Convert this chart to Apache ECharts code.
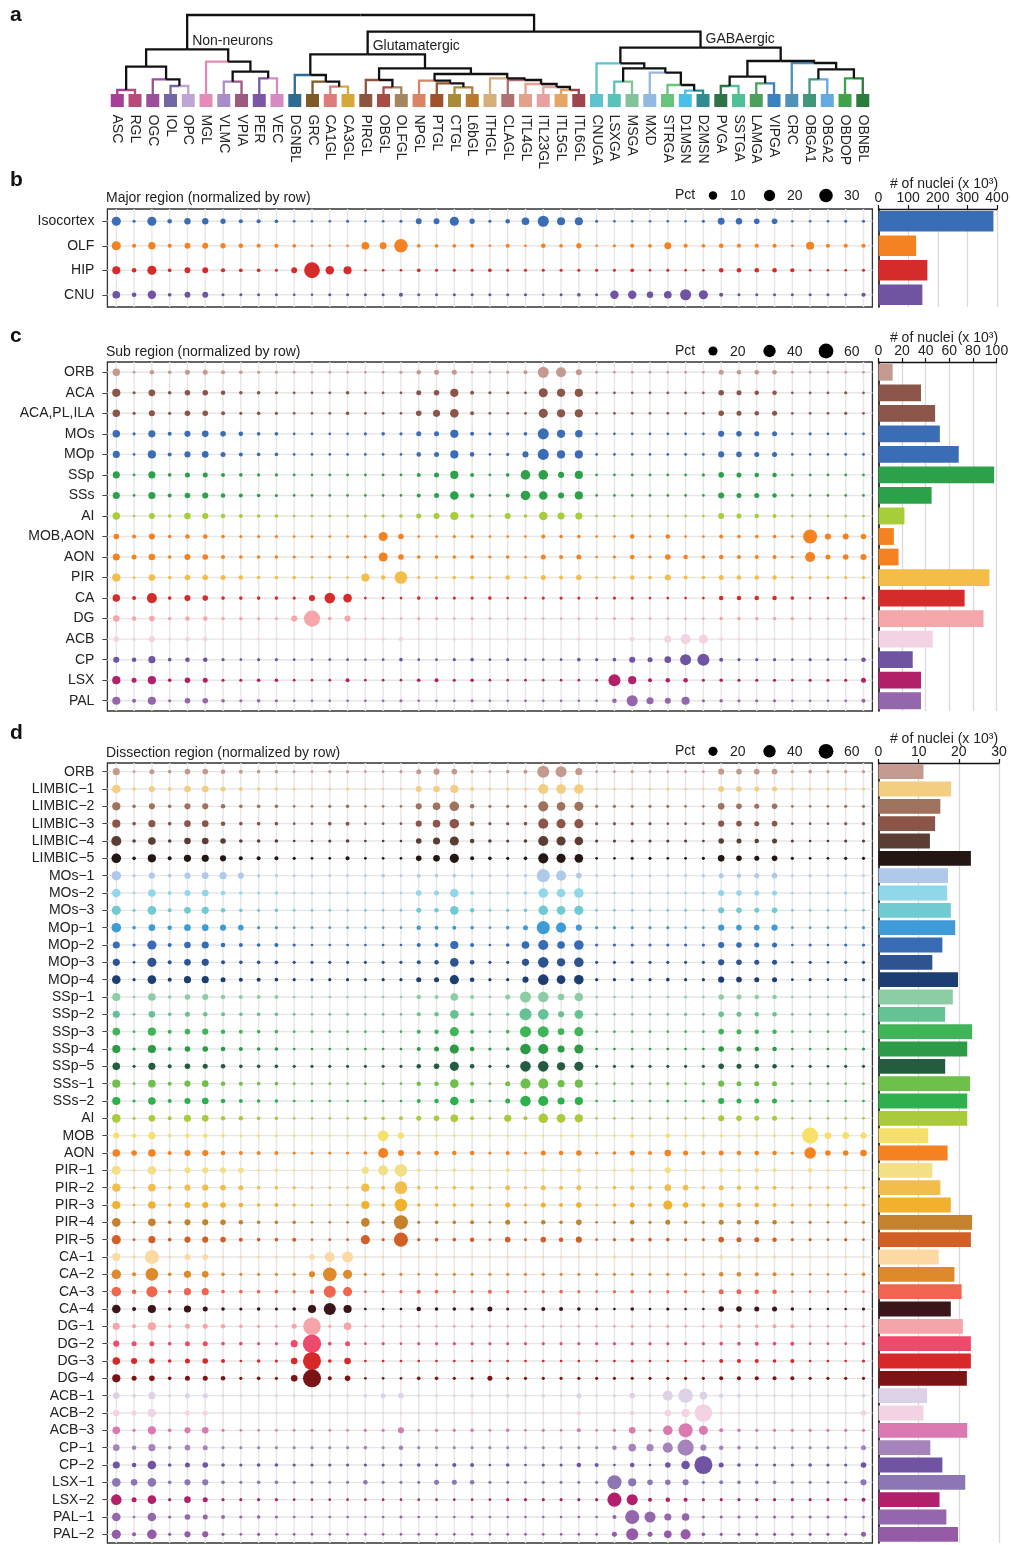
<!DOCTYPE html>
<html><head><meta charset="utf-8">
<script src="https://cdn.jsdelivr.net/npm/echarts@6/dist/echarts.min.js"></script>
<style>html,body{margin:0;padding:0;background:#fff}#c{width:1011px;height:1545px}</style>
</head><body><div id="c"></div>
<script>
const FONT = 'Liberation Sans, Arial, Helvetica, sans-serif';
const FS = 14;

// ---------- cell-type clusters (columns) ----------
const clusters = ['ASC','RGL','OGC','IOL','OPC','MGL','VLMC','VPIA','PER','VEC',
 'DGNBL','GRC','CA1GL','CA3GL','PIRGL','OBGL','OLFGL','NPGL','PTGL','CTGL','L6bGL','ITHGL','CLAGL','ITL4GL','ITL23GL','ITL5GL','ITL6GL',
 'CNUGA','LSXGA','MSGA','MXD','STRGA','D1MSN','D2MSN','PVGA','SSTGA','LAMGA','VIPGA','CRC','OBGA1','OBGA2','OBDOP','OBNBL'];
const clusterColors = ['#a63f98','#b9497a','#9b4e99','#7466a4','#bea6d4','#e58bb8','#a88dc8','#9c5a7d','#7b56a5','#d58ac2',
 '#2e6b93','#7d5a26','#e07b7b','#d6a83a','#8d5540','#a94c46','#a5865f','#da8366','#9d522b','#a98b38','#b97a2e','#d3b07a','#b07270','#e2a18d','#e9a0a3','#e6a565','#9f4550',
 '#5cc3cf','#56c4b8','#82c39a','#93b9e1','#68c47a','#48c1ea','#2e8b8f','#2f7247','#4fc197','#4ba05c','#3b80c1','#5191b9','#40957a','#64a9e0','#3fa24b','#2c7a3c'];

// ---------- dendrogram merges: [node, left, right, height] ----------
const dendroMerges = [
 ['A','ASC','RGL',4],['B','IOL','OPC',8],['C','OGC','B',14.7],['D','A','C',27.3],
 ['E','VLMC','VPIA',12.3],['F','PER','VEC',15.7],['G','E','F',22.3],['H','MGL','G',32.3],['NN','D','H',44.7],
 ['I','CA1GL','CA3GL',7.3],['J','GRC','I',12.3],['K','DGNBL','J',19],
 ['Q','OBGL','OLFGL',6.7],['N','PIRGL','Q',14],
 ['U','CTGL','L6bGL',6.7],['T','PTGL','U',10.7],['R','NPGL','T',13.3],
 ['Y','ITL5GL','ITL6GL',4],['X','ITL23GL','Y',7],['W','ITL4GL','X',10],['V','CLAGL','W',14],['S','ITHGL','V',15.7],
 ['P','R','S',20],['M','N','P',25.7],['GLU','K','M',39.7],
 ['G6','D1MSN','D2MSN',3.3],['G5','STRGA','G6',9],['G4','MXD','G5',21.3],['G3','LSXGA','MSGA',12.3],['G2','G3','G4',25.7],['G1','CNUGA','G2',30.7],
 ['PS','PVGA','SSTGA',8],['LV','LAMGA','VIPGA',10.7],['G8','PS','LV',17.3],
 ['OB12','OBGA1','OBGA2',14.7],['ODN','OBDOP','OBNBL',15.7],['G10','OB12','ODN',24.7],['G9','CRC','G10',31],['G7','G8','G9',33],
 ['GABA','G1','G7',46.3],['NEU','GLU','GABA',62.3],['ROOT','NN','NEU',79]
];
const groupLabels = [['NN','Non-neurons'],['GLU','Glutamatergic'],['GABA','GABAergic']];

// ---------- panel b: major region ----------
const majorRegions = ['Isocortex','OLF','HIP','CNU'];
const majorColors = ['#3a6db5','#f58220','#d62b2b','#7053a3'];
const majorPct = [
 [12,0.5,12,2,5,5,3,1.5,1.5,1, 0.3,0.3,0.3,0.5,0.3,0.3,0.5,4,4,12, 3,0.5,2,8,19,9,9,0.5,0.3,0.3, 0.3,0.3,0.3,0.5,6,5,3.5,3.5,0.3,0.3, 0.3,0.5,0.5],
 [12,1.5,7,1.5,4,4,3,2,1.5,1.5, 1,0.3,0.3,0.3,8,6,30,1,1,1, 1.5,0.3,1.5,0.3,2,1,3,0.3,0.5,1.5, 1,6,1.5,1,2,1.5,1.5,1.5,0.3,9, 1.5,1.5,1.5],
 [9,2,12,1,4,4,1.5,1,1,0.5, 4,42,10,9,0.3,0.3,0.3,1,0.5,0.5, 0.5,1,0.5,0.5,0.5,0.5,0.5,0.5,0.5,1, 0.3,0.5,0.3,0.3,2,2,2,2,1.5,0.3, 0.3,0.3,0.5],
 [8,2,10,1,4,4,0.5,0.5,0.5,0.5, 0.3,0.3,0.5,0.5,0.5,0.5,1.5,0.5,0.5,0.5, 0.5,0.5,0.5,0.5,0.3,0.5,1,0.5,10,10, 5,8,19,12,1.5,0.5,0.5,0.5,0.5,0.5, 0.5,0.5,1.5]
];
const majorNuclei = [388,127,165,148];
const majorTicks = [0,100,200,300,400];
const majorLegend = [10,20,30];

// ---------- panel c: sub region ----------
const subRegions = ['ORB','ACA','ACA,PL,ILA','MOs','MOp','SSp','SSs','AI','MOB,AON','AON','PIR','CA','DG','ACB','CP','LSX','PAL'];
const subColors = ['#c49a8f','#8b5549','#8b5549','#3a6db5','#3a6db5','#2ca14a','#2ca14a','#a6ce39','#f58220','#f58220','#f3bd48','#d62b2b','#f5a6aa','#f3d3e3','#7053a3','#b21f6b','#9467ac'];
const subPct = [
 [12,0.4,3,1.4,4,4,2,1.4,0.8,0.8, 0.4,0.4,0.4,0.4,0.4,0.4,0.8,3,4,4, 0.4,0.4,0.8,2,31,25,7,0.4,0.4,0.4, 0.4,0.4,0.4,0.4,4,3,3,3,0.4,0.4, 0.4,0.4,0.4],
 [15,0.8,9,1.4,5.5,5.5,3,1.4,1.4,0.8, 0.4,0.4,0.4,1.4,0.4,0.4,0.4,4,5.5,15, 2,0.8,0.8,0.4,19.5,15,15,0.4,0.4,0.4, 0.4,0.4,0.4,0.4,5.5,4,3,3,0.4,0.4, 0.4,0.8,0.4],
 [12,0.8,7,0.8,5.5,5.5,2,0.8,1.4,0.8, 0.4,0.4,0.4,1.4,0.4,0.4,0.4,5.5,10.5,17, 2,0.4,0.4,0.4,19.5,15,15,0.4,0.4,0.4, 0.4,0.4,0.4,0.4,5.5,4,3,4,0.4,0.4, 0.4,0.8,0.4],
 [12,0.8,10.5,2,7,8.7,5.5,3,1.4,1.4, 0.4,0.4,0.4,0.4,0.8,1.4,0.8,4,4,15, 2,0.8,0.8,1.4,31,15,12,0.4,0.4,0.4, 0.4,0.4,0.4,0.4,7,5.5,4,4,0.4,0.8, 0.4,0.4,0.4],
 [10.5,0.4,15,2,7,8.7,4,2,1.4,1.4, 0.4,0.4,0.4,0.4,0.4,0.4,0.4,3,4,15, 3,0.4,0.8,7,31,15,15,0.4,0.4,0.4, 0.4,0.4,0.4,0.4,7,5.5,4,4,0.4,0.4, 0.4,0.4,0.4],
 [10.5,0.4,10.5,1.4,4,4,2,1.4,0.8,0.8, 0.4,0.4,0.4,0.4,0.4,0.4,0.4,2,4,15, 2,0.4,1.4,22,22,7,15,0.4,0.4,0.4, 0.4,0.4,0.4,0.8,5.5,4,3,3,0.4,0.4, 0.4,0.4,0.4],
 [10.5,0.4,10.5,2,5.5,7,3,2,1.4,0.8, 0.4,0.4,0.4,0.4,0.4,0.4,0.4,2,4,17, 3,0.4,2,22,17,7,15,0.4,0.4,0.4, 0.4,0.4,0.4,0.4,7,4,4,3,0.4,0.4, 0.4,0.4,0.4],
 [12,0.4,7,1.4,8.7,7,3,2,1.4,1.4, 0.4,0.4,0.4,0.4,0.8,0.8,1.4,4,7,15, 2,0.4,7,1.4,17,10.5,10.5,0.4,0.4,0.4, 0.4,0.4,0.4,0.4,7,4,3,2,0.4,0.4, 0.4,0.4,0.4],
 [5.5,2,7,1.4,3,3,1.4,0.8,0.8,0.8, 0.4,0.4,0.4,0.4,0.8,19.5,5.5,0.4,0.4,0.8, 0.8,0.4,0.4,0.4,2,1.4,1.4,0.4,0.4,3, 0.4,3,0.4,0.4,2,1.4,1.4,1.4,0.4,54, 7,7,5.5],
 [10.5,4,8.7,1.4,7,5.5,2,1.4,1.4,1.4, 0.8,0.4,0.8,0.8,0.8,19.5,5.5,1.4,1.4,1.4, 2,0.8,1.4,0.4,4,2,4,0.4,0.8,3, 0.8,5.5,3,1.4,3,2,2,2,0.4,25, 4,5.5,7],
 [15,0.4,8.7,1.4,5.5,5.5,4,3,1.4,1.4, 1.4,0.4,0.4,0.4,15,3,42,0.8,0.8,1.4, 2,0.4,3,0.8,4,2,5.5,0.4,0.8,3, 1.4,7,2,1.4,4,3,3,3,0.4,0.8, 0.8,0.8,0.8],
 [12,2,25,1.4,7,5.5,1.4,1.4,1.4,1.4, 0.8,7,28,17,0.4,0.4,0.4,1.4,0.8,0.8, 0.8,1.4,0.4,0.4,0.8,0.8,0.8,0.4,0.8,0.8, 0.4,0.4,0.4,0.4,3,3,3,3,1.4,0.4, 0.4,0.4,0.8],
 [8.7,3,5.5,1.4,3,3,1.4,1.4,0.8,0.8, 7,73,1.4,7,0.4,0.4,0.4,0.8,0.8,0.4, 0.8,0.4,0.4,0.4,0.4,0.4,0.4,0.4,0.8,0.8, 0.4,0.4,0.4,0.4,1.4,1.4,1.4,1.4,1.4,0.4, 0.4,0.4,0.4],
 [5.5,1.4,7,0.8,3,3,0.4,0.4,0.8,0.4, 0.4,0.4,0.4,0.4,0.8,1.4,3,0.4,0.4,0.8, 0.8,0.4,0.8,0.4,0.8,0.4,1.4,0.4,0.4,3, 0.8,10.5,25,19.5,2,0.8,0.8,0.4,0.4,0.4, 0.4,0.4,0.8],
 [7,3,10.5,1.4,3,3,0.8,0.4,0.8,0.8, 0.4,0.4,0.4,0.4,0.4,0.4,1.4,0.4,0.4,0.8, 1.4,0.4,0.8,0.4,0.4,0.4,1.4,0.8,1.4,7, 4,8.7,31,38,2,0.8,0.8,0.8,0.4,0.8, 0.4,0.4,3],
 [15,4,15,1.4,5.5,4,0.8,0.8,1.4,1.4, 0.4,0.4,0.4,2,0.4,0.4,0.4,1.4,2,0.8, 1.4,0.4,0.4,0.4,0.4,0.4,0.4,0.4,38,15, 2,3,3,0.8,1.4,0.8,0.8,0.8,0.4,0.8, 0.8,0.8,4],
 [15,2,15,0.8,5.5,5.5,1.4,0.8,1.4,0.8, 0.4,0.4,0.4,0.4,0.4,0.4,0.8,0.4,0.4,0.4, 0.8,0.4,0.4,0.4,0.4,0.4,0.4,0.4,3,31, 10.5,7,15,0.8,1.4,0.8,0.8,0.8,0.4,0.4, 0.4,0.4,2]
];
const subNuclei = [12,36,48,52,68,98,45,22,13,17,94,73,89,46,29,36,36];
const subTicks = [0,20,40,60,80,100];
const subLegend = [20,40,60];

// ---------- panel d: dissection region ----------
const dissRegions = ['ORB','LIMBIC\u22121','LIMBIC\u22122','LIMBIC\u22123','LIMBIC\u22124','LIMBIC\u22125','MOs\u22121','MOs\u22122','MOs\u22123',
 'MOp\u22121','MOp\u22122','MOp\u22123','MOp\u22124','SSp\u22121','SSp\u22122','SSp\u22123','SSp\u22124','SSp\u22125','SSs\u22121','SSs\u22122','AI',
 'MOB','AON','PIR\u22121','PIR\u22122','PIR\u22123','PIR\u22124','PIR\u22125','CA\u22121','CA\u22122','CA\u22123','CA\u22124',
 'DG\u22121','DG\u22122','DG\u22123','DG\u22124','ACB\u22121','ACB\u22122','ACB\u22123','CP\u22121','CP\u22122','LSX\u22121','LSX\u22122','PAL\u22121','PAL\u22122'];
const dissColors = ['#c49a8f','#f3cd82','#9f725d','#8b5549','#5b3e33','#241612','#afc9ea','#90d7ea','#6fcad1',
 '#3f9bd7','#386bb5','#2d5390','#1c3e72','#8dcda5','#66c193','#3fb558','#2b9b46','#245c40','#6fbf4b','#2eb04c','#a8cb3a',
 '#f7e06a','#f58220','#f3e086','#f2bd4b','#f0b22c','#c4822c','#d35f27','#fcd9a2','#de8a2a','#f0654e','#3a161a',
 '#f5a5a9','#ee4a6c','#d7282a','#7c1416','#ddd1e6','#f3d3e3','#da7ab1','#a783bb','#7053a3','#8c77b4','#b21f6b','#9467ac','#965ba6'];
const dissPct = [
 [10.5,0.4,4,1.4,5.5,5.5,3,2,1.4,1.4, 0.4,0.4,0.8,0.8,0.4,0.4,0.8,4,7,5.5, 0.8,0.4,1.4,2,38,31,10.5,0.4,0.4,0.8, 0.4,0.4,0.4,0.4,7,5.5,5.5,5.5,0.8,1.4, 0.8,0.8,0.8],
 [17,1.4,7,2,8.7,8.7,4,2,1.4,1.4, 0.4,0.4,0.4,0.8,0.4,0.4,0.4,7,8.7,15, 2,0.8,0.8,0.8,25,22,22,0.4,0.4,0.4, 0.4,0.8,0.4,0.4,7,5.5,4,4,0.8,0.8, 0.8,0.8,0.8],
 [15,1.4,7,1.4,7,7,3,1.4,1.4,1.4, 0.4,0.4,0.8,1.4,0.4,0.4,0.4,7,12.5,22, 3,0.8,0.8,0.8,25,17,19.5,0.8,0.8,0.8, 0.8,0.8,0.4,0.4,8.7,5.5,4,5.5,0.4,0.4, 0.4,0.8,0.8],
 [15,1.4,10.5,1.4,8.7,8.7,3,1.4,1.4,1.4, 0.4,0.4,1.4,2,0.4,0.4,0.4,7,12.5,22, 3,0.8,0.8,1.4,25,19.5,19.5,0.8,0.8,0.8, 0.8,0.4,0.4,0.4,7,5.5,4,5.5,0.4,0.4, 0.4,0.8,0.8],
 [25,1.4,12.5,1.4,8.7,8.7,5.5,1.4,1.4,1.4, 0.4,0.4,0.8,1.4,0.4,0.4,0.4,5.5,10.5,19.5, 3,1.4,0.8,1.4,25,19.5,17,0.8,0.8,0.8, 0.8,0.8,0.8,0.4,5.5,4,3,4,0.8,0.4, 0.4,0.8,0.8],
 [22,1.4,15,2,10.5,10.5,7,2,2,2, 0.8,0.4,0.4,2,0.4,0.4,0.4,5.5,8.7,19.5, 2,1.4,0.8,1.4,25,19.5,17,0.4,0.4,0.8, 0.8,0.4,0.4,0.8,8.7,5.5,4,5.5,0.8,0.4, 0.4,0.8,0.8],
 [22,0.8,7,1.4,7,8.7,10.5,7,0.8,0.8, 0.4,0.4,0.4,0.4,0.4,1.4,0.4,2,1.4,1.4, 0.4,0.4,0.4,0.8,46,25,5.5,0.4,0.4,0.4, 0.4,0.4,0.4,0.8,4,3,4,5.5,0.4,0.8, 0.4,0.4,0.4],
 [17,0.4,12.5,2,7,8.7,3,1.4,0.8,1.4, 0.4,0.4,0.4,0.4,0.4,0.4,0.4,5.5,4,17, 2,0.4,0.8,1.4,22,17,22,0.4,0.4,0.4, 0.4,0.4,0.4,0.4,7,5.5,4,4,0.4,0.4, 0.4,0.8,0.4],
 [19.5,0.8,17,2,8.7,10.5,3,1.4,0.8,1.4, 0.4,0.4,0.4,0.4,0.4,0.4,0.4,4,3,17, 3,0.4,0.8,1.4,22,17,19.5,0.4,0.4,0.4, 0.4,0.4,0.4,0.4,7,5.5,4,5.5,0.4,0.4, 0.4,0.4,0.4],
 [22,1.4,8.7,3,8.7,8.7,7,5.5,0.8,0.8, 0.4,0.4,0.4,0.4,0.4,0.4,0.4,3,2,2, 1.4,0.4,1.4,4,46,25,7,0.8,0.8,0.8, 0.8,0.8,0.4,0.4,7,5.5,5.5,7,0.4,0.4, 0.4,0.4,0.8],
 [10.5,0.8,19.5,2,8.7,10.5,3,2,1.4,2, 0.8,0.4,0.4,0.4,0.4,0.4,0.4,2,2,15, 2,0.4,1.4,12.5,25,12.5,22,0.8,0.8,0.8, 0.8,0.8,0.8,0.8,7,5.5,4,4,0.4,0.8, 0.4,0.8,0.8],
 [10.5,0.4,19.5,2,8.7,10.5,2,1.4,1.4,1.4, 0.8,0.8,0.8,0.8,0.8,0.8,0.8,2,3,17, 3,0.8,0.8,10.5,28,15,22,0.8,0.8,0.8, 0.8,0.8,0.8,0.8,7,5.5,4,4,0.4,0.8, 0.4,0.8,0.8],
 [17,0.8,17,2,10.5,10.5,4,2,2,1.4, 0.8,0.8,0.8,0.8,0.8,0.8,0.8,4,4,19.5, 3,0.8,0.8,7,28,17,22,0.8,0.8,0.8, 0.8,1.4,0.8,0.8,7,5.5,4,4,0.4,0.8, 0.4,0.8,0.8],
 [15,0.4,12.5,1.4,5.5,7,3,2,2,2, 0.4,0.4,0.4,0.4,0.4,0.4,0.4,3,2,12.5, 2,0.4,4,31,28,8.7,17,0.4,0.4,0.4, 0.4,0.4,0.8,0.4,5.5,4,3,3,0.4,0.4, 0.4,0.4,0.4],
 [10.5,0.4,8.7,1.4,4,3,2,1.4,1.4,1.4, 0.4,0.4,0.4,0.4,0.4,0.4,0.4,2,3,17, 2,0.4,0.8,38,28,7,17,0.4,0.4,0.4, 0.4,0.4,0.8,0.4,5.5,4,3,3,0.4,0.4, 0.4,0.4,0.4],
 [12.5,0.4,15,2,5.5,7,3,2,1.4,1.4, 0.4,0.4,0.4,0.4,0.4,0.4,0.4,2,3,19.5, 2,0.4,1.4,31,31,8.7,19.5,0.4,0.4,0.4, 0.4,0.4,0.4,0.4,5.5,4,3,3,0.4,0.4, 0.4,0.4,0.4],
 [15,0.8,15,2,5.5,5.5,3,2,1.4,1.4, 0.4,0.4,0.4,0.4,0.4,0.4,0.4,2,4,19.5, 3,0.8,1.4,28,25,10.5,19.5,0.4,0.4,0.4, 0.4,0.4,0.4,0.4,5.5,4,3,3,0.4,0.4, 0.4,0.4,0.8],
 [12.5,0.8,10.5,2,5.5,4,3,1.4,1.4,1.4, 0.8,0.8,0.8,0.8,0.8,0.8,0.8,3,5.5,19.5, 3,0.8,1.4,28,28,15,19.5,0.8,0.8,0.8, 0.8,0.8,0.8,0.8,5.5,4,3,3,0.4,0.8, 0.4,0.8,0.8],
 [15,0.4,12.5,2,7,8.7,3,2,1.4,1.4, 0.4,0.4,0.4,0.4,0.4,0.4,0.4,3,3,17, 2,0.4,4,25,25,10.5,15,0.4,0.4,0.4, 0.4,0.8,0.4,0.8,7,4,4,4,0.4,0.4, 0.4,0.4,0.4],
 [15,0.8,12.5,2,7,8.7,3,2,1.4,1.4, 0.4,0.4,0.4,0.4,0.4,0.4,0.4,2,3,17, 3,0.4,4,28,25,10.5,15,0.4,0.4,0.4, 0.4,0.8,0.4,0.8,7,4,4,4,0.4,0.4, 0.4,0.4,0.4],
 [17,0.8,8.7,2,10.5,8.7,3,3,1.4,1.4, 0.4,0.4,0.4,0.4,1.4,1.4,2,4,5.5,12.5, 2,0.4,10.5,2,22,17,15,0.4,0.4,0.4, 0.4,0.4,0.4,0.4,7,5.5,4,4,0.4,0.4, 0.4,0.4,0.4],
 [7,3,10.5,1.4,3,3,1.4,0.8,0.8,0.8, 0.4,0.4,0.4,0.4,0.4,28,7,0.4,0.4,0.4, 0.4,0.4,0.4,0.4,0.4,0.4,0.4,0.4,0.4,2, 0.4,3,0.8,0.8,0.8,0.8,0.8,0.8,0.4,73, 8.7,8.7,7],
 [12.5,5.5,12.5,2,7,7,3,2,2,2, 0.8,0.8,0.8,0.8,1.4,25,7,2,3,3, 3,0.8,2,0.8,4,3,5.5,0.8,1.4,4, 2,8.7,4,2,4,3,3,3,0.8,35, 5.5,5.5,8.7],
 [19.5,0.8,17,1.4,7,7,7,5.5,0.8,1.4, 0.4,0.4,0.4,0.4,10.5,25,42,1.4,0.8,1.4, 1.4,0.4,2,0.8,2,0.8,3,0.4,0.8,3, 0.8,7,1.4,0.8,3,2,3,2,0.4,3, 0.8,0.8,0.4],
 [15,0.4,12.5,1.4,7,7,5.5,4,1.4,1.4, 0.8,0.4,0.4,0.4,15,2,42,1.4,1.4,1.4, 2,0.4,4,0.8,4,2,4,0.4,1.4,3, 1.4,8.7,5.5,1.4,4,3,3,2,0.4,0.8, 0.8,0.8,0.8],
 [15,0.4,12.5,1.4,7,7,5.5,3,1.4,2, 0.8,0.4,0.4,0.4,15,1.4,42,1.4,1.4,1.4, 1.4,0.4,4,0.8,4,2,5.5,0.4,1.4,4, 2,19.5,5.5,2,4,3,3,2,0.8,0.8, 0.8,0.8,0.8],
 [17,0.4,12.5,1.4,7,7,5.5,3,1.4,1.4, 1.4,0.4,0.4,0.4,17,0.8,54,0.8,1.4,1.4, 2,0.4,4,0.8,3,1.4,5.5,0.4,0.8,3, 0.8,4,1.4,0.8,4,3,3,3,0.8,0.8, 0.4,0.8,0.8],
 [19.5,0.4,10.5,1.4,7,7,5.5,2,1.4,1.4, 2,0.4,0.4,0.4,19.5,0.8,54,0.8,1.4,1.4, 3,0.4,5.5,0.8,5.5,3,7,0.4,0.8,2, 1.4,1.4,0.8,0.8,5.5,4,4,3,0.8,0.8, 0.4,0.8,0.4],
 [15,1.4,54,0.8,7,5.5,0.8,0.8,0.8,0.8, 0.8,5.5,25,31,0.4,0.4,0.4,0.4,0.4,0.4, 0.4,0.4,0.4,0.4,0.4,0.4,0.4,0.4,1.4,0.4, 0.4,0.4,0.4,0.4,2,2,1.4,1.4,0.4,0.4, 0.4,0.4,0.4],
 [22,2,42,1.4,10.5,8.7,1.4,0.8,0.8,0.8, 0.8,7,50,19.5,0.8,0.8,0.8,0.4,0.8,0.8, 0.8,0.8,0.8,0.8,0.8,0.8,0.8,0.8,0.8,0.8, 0.8,0.8,0.8,0.8,3,3,2,2,0.8,0.4, 0.4,0.4,1.4],
 [22,3,31,1.4,10.5,10.5,1.4,1.4,1.4,1.4, 0.8,3,38,19.5,0.4,0.4,0.8,2,1.4,0.8, 0.8,2,0.8,0.4,0.8,1.4,0.8,0.4,0.8,1.4, 0.4,0.8,0.8,0.4,4,4,3,3,0.4,0.4, 0.4,0.4,0.4],
 [17,2,15,1.4,10.5,4,1.4,0.8,1.4,0.8, 1.4,15,38,15,0.4,0.4,0.4,3,1.4,1.4, 1.4,4,0.8,0.4,2,2,1.4,0.8,0.4,1.4, 0.4,0.8,0.4,0.4,5.5,5.5,4,4,1.4,0.4, 0.4,0.4,0.8],
 [10.5,2,15,1.4,4,4,3,1.4,0.8,0.8, 4,88,0.8,12.5,0.4,0.4,0.4,0.4,0.4,0.4, 0.4,0.4,0.4,0.4,0.4,0.4,0.4,0.4,0.4,0.8, 0.4,0.8,0.4,0.4,1.4,1.4,1.4,2,2,0.4, 0.4,0.4,0.4],
 [7,4,4,1.4,4,4,1.4,1.4,0.8,0.8, 10.5,98,1.4,4,0.4,0.8,0.4,0.8,0.8,0.8, 0.8,0.8,0.8,0.8,0.8,0.8,0.8,0.8,0.8,0.8, 0.8,0.8,0.8,0.8,1.4,1.4,2,1.4,2,0.4, 0.4,0.4,0.8],
 [12.5,7,5.5,1.4,4,5.5,2,0.4,1.4,0.8, 8.7,94,1.4,8.7,0.4,0.4,0.4,0.4,0.4,0.4, 0.4,0.4,0.4,0.4,0.4,0.4,0.4,0.4,0.4,0.8, 0.4,0.4,0.4,0.4,2,2,2,1.4,2,0.4, 0.4,0.4,0.8],
 [15,4,5.5,1.4,4,4,3,0.8,1.4,0.8, 8.7,94,2,5.5,0.4,0.4,0.4,1.4,1.4,0.8, 0.8,4,0.8,0.8,0.8,0.8,0.8,0.8,0.8,0.8, 0.8,0.8,0.8,0.8,2,2,2,2,2,0.8, 0.8,0.8,0.8],
 [8.7,2,10.5,0.8,4,4,0.4,0.4,0.4,0.4, 0.4,0.4,0.4,0.4,1.4,4,5.5,0.4,0.4,0.4, 1.4,0.4,2,0.4,1.4,0.4,4,0.4,0.8,5.5, 0.4,25,58,12.5,3,2,0.8,0.4,0.4,0.4, 0.4,0.4,1.4],
 [8.7,4,15,0.8,4,4,0.4,0.4,0.4,0.4, 0.4,0.4,0.4,0.4,0.4,0.4,0.8,0.4,0.4,0.4, 1.4,0.4,0.4,0.4,0.8,0.4,3,0.4,0.8,3, 0.4,8.7,15,90,1.4,0.8,0.4,0.4,0.4,0.4, 0.4,0.4,5.5],
 [12.5,0.8,15,1.4,7,8.7,0.8,0.4,0.4,0.4, 0.4,0.4,0.4,0.4,0.8,0.8,7,0.4,0.8,0.8, 1.4,0.4,1.4,0.4,0.8,0.4,2,0.4,0.8,8.7, 0.8,22,54,19.5,2,1.4,0.8,0.8,0.8,0.8, 0.8,0.8,0.8],
 [8.7,3,10.5,1.4,5.5,4,0.8,0.8,0.8,0.8, 0.8,0.8,0.8,0.8,1.4,0.8,3,0.8,0.8,0.8, 0.8,0.8,0.8,0.8,0.8,0.8,0.8,0.8,3,12.5, 10.5,25,73,7,3,1.4,0.8,0.8,0.8,0.8, 0.8,0.8,4],
 [10.5,3,17,1.4,4,5.5,1.4,0.8,1.4,1.4, 0.8,0.8,0.8,0.8,0.8,0.8,0.8,1.4,0.8,2, 2,0.4,1.4,0.4,0.8,0.8,3,2,0.4,3, 0.4,5.5,17,94,4,1.4,0.8,0.8,0.8,1.4, 0.8,0.8,5.5],
 [17,8.7,17,1.4,7,7,1.4,0.8,1.4,1.4, 0.8,0.8,0.8,0.8,3,0.8,0.8,0.8,4,4, 3,0.8,0.8,0.8,0.8,0.8,0.8,0.8,54,15, 5.5,5.5,7,0.8,2,1.4,1.4,1.4,0.8,0.8, 0.8,0.8,7],
 [28,4,17,0.8,8.7,4,0.8,0.8,0.8,0.8, 0.4,0.4,0.4,0.4,0.4,0.4,0.4,0.4,0.4,0.4, 0.4,0.4,0.8,0.8,0.8,0.8,0.8,0.8,54,31, 2,3,2,0.8,0.8,0.8,0.8,0.8,0.8,0.8, 0.8,0.8,2],
 [17,0.4,17,0.8,5.5,4,2,0.8,1.4,0.8, 0.4,0.4,0.4,0.4,0.4,0.4,0.8,0.4,0.4,0.4, 0.8,0.4,0.4,0.4,0.4,0.4,0.4,0.4,2,54, 31,10.5,12.5,0.8,0.8,0.8,0.8,0.8,0.8,0.8, 0.8,0.8,0.8],
 [19.5,2,22,0.8,7,7,0.8,0.4,0.8,0.4, 0.4,0.4,0.4,0.4,0.4,0.4,0.4,0.4,0.4,0.4, 0.4,0.4,0.4,0.4,0.4,0.4,0.4,0.4,4,38, 4,12.5,25,1.4,0.8,0.8,0.8,0.8,0.8,0.8, 0.8,0.8,4]
];
const dissNuclei = [11.2,18.1,15.4,14.1,12.8,23,17.3,17.1,18,19.1,15.9,13.4,19.8,18.5,16.6,23.3,22.1,16.6,22.8,22.1,22.1,
 12.4,17.2,13.4,15.4,18,23.3,23,15,18.9,20.7,18,21,23,23,22,12.1,11.2,22.1,12.9,15.9,21.6,15.2,16.9,19.8];
const dissTicks = [0,10,20,30];
const dissLegend = [20,40,60];

// ---------- size scales ----------
const sizeB = p => 1.5 + 2.2 * Math.sqrt(p);
const sizeCD = p => 1.6 + 1.7 * Math.sqrt(p);

// ---------- build ----------
const grids = [], xAxes = [], yAxes = [], series = [], graphics = [];
const txt = (x, y, text, o) => ({type:'text', x, y, style:Object.assign({text, fill:'#222', font:FS+'px '+FONT, textVerticalAlign:'middle', verticalAlign:'middle'}, o||{})});

// Dendrogram
const node = {};
clusters.forEach((n,i) => node[n] = {x:i, h:0, leaf:true, color:clusterColors[i]});
const segs = [];
dendroMerges.forEach(([id,l,r,h]) => {
  const a = node[l], b = node[r], x = (a.x + b.x) / 2;
  [a,b].forEach(c => segs.push({pts:[[c.x,c.h],[c.x,h],[x,h]], color: c.leaf ? c.color : '#111'}));
  node[id] = {x, h, leaf:false};
});
grids.push({left:108.4, top:16, width:763.25, height:91.5, outerBoundsMode:'none', containLabel:false});
xAxes.push({gridIndex:0, type:'value', min:-0.5, max:42.5, show:false, position:'top'});
xAxes.push({gridIndex:0, type:'category', data:clusters, position:'bottom', boundaryGap:true,
  axisLine:{show:false}, axisTick:{show:false}, splitLine:{show:false},
  axisLabel:{rotate:-90, interval:0, fontSize:FS, color:'#222', fontFamily:FONT, margin:7}});
yAxes.push({gridIndex:0, type:'value', min:-13.5, max:78, show:false});
series.push({type:'custom', xAxisIndex:0, yAxisIndex:0, clip:false, silent:true, z:2,
  data: segs.map(s => s.pts[0]),
  renderItem: (params, api) => {
    const s = segs[params.dataIndex];
    return {type:'polyline', shape:{points: s.pts.map(p => api.coord(p))}, style:{stroke:s.color, lineWidth:2.3, fill:null, lineJoin:'miter'}};
  }});
series.push({type:'scatter', xAxisIndex:0, yAxisIndex:0, symbol:'rect', symbolSize:13, silent:true, z:3,
  itemStyle:{opacity:1},
  data: clusters.map((n,i) => ({value:[i,-6.5], itemStyle:{color:clusterColors[i]}}))});
series.push({type:'custom', xAxisIndex:0, yAxisIndex:0, clip:false, silent:true, z:4,
  data: groupLabels.map(g => [node[g[0]].x, node[g[0]].h]),
  renderItem: (params, api) => {
    const p = api.coord([api.value(0), api.value(1)]);
    return {type:'text', x:p[0]+5, y:p[1]-8.5, style:{text:groupLabels[params.dataIndex][1], fill:'#222', font:FS+'px '+FONT, verticalAlign:'middle', textVerticalAlign:'middle'}};
  }});

function vline(params, api){
  const cs = params.coordSys, p = api.coord([api.value(0), api.value(1)]);
  return {type:'line', shape:{x1:p[0], y1:cs.y, x2:p[0], y2:cs.y+cs.height}, style:{stroke:'#e6e6e6', lineWidth:1.4}};
}
function hline(params, api){
  const cs = params.coordSys, p = api.coord([api.value(0), api.value(1)]);
  return {type:'line', shape:{x1:cs.x, y1:p[1], x2:cs.x+cs.width, y2:p[1]}, style:{stroke:'#e6e6e6', lineWidth:1.4}};
}

function panel(cfg){
  const g = grids.length;
  grids.push({left:107.4, top:cfg.top, width:765, height:cfg.height, show:true, borderColor:'#333', borderWidth:1.3, backgroundColor:'rgba(0,0,0,0)', outerBoundsMode:'none', containLabel:false});
  xAxes.push({gridIndex:g, type:'category', data:clusters, boundaryGap:true, axisLine:{show:false}, axisTick:{show:false}, axisLabel:{show:false}, splitLine:{show:false}});
  yAxes.push({gridIndex:g, type:'category', data:cfg.rows, inverse:true, boundaryGap:true,
    axisLine:{show:false}, axisTick:{show:true, alignWithLabel:true, length:5, lineStyle:{color:'#444', width:1}},
    axisLabel:{interval:0, fontSize:FS, color:'#222', fontFamily:FONT, margin:13}, splitLine:{show:false}});
  const xi = xAxes.length - 1, yi = yAxes.length - 1;
  series.push({type:'custom', xAxisIndex:xi, yAxisIndex:yi, silent:true, z:1, data: clusters.map((n,i)=>[i,0]), renderItem:vline});
  series.push({type:'custom', xAxisIndex:xi, yAxisIndex:yi, silent:true, z:1, data: cfg.rows.map((n,r)=>[0,r]), renderItem:hline});
  const data = [];
  cfg.pct.forEach((row,r) => row.forEach((p,c) => data.push({value:[c,r,p], itemStyle:{color:cfg.colors[r]}})));
  series.push({type:'scatter', xAxisIndex:xi, yAxisIndex:yi, silent:true, z:3, itemStyle:{opacity:1}, data, symbolSize: v => cfg.size(v[2])});
  // bars
  const gb = grids.length;
  grids.push({left:878.5, top:cfg.top, width:cfg.barW, height:cfg.height, outerBoundsMode:'none', containLabel:false});
  xAxes.push({gridIndex:gb, type:'value', position:'top', min:0, max:cfg.ticks[cfg.ticks.length-1], interval:cfg.ticks[1],
    axisLine:{show:true, lineStyle:{color:'#111', width:1.3}}, axisTick:{show:true, length:4, lineStyle:{color:'#111', width:1.2}},
    axisLabel:{fontSize:FS, color:'#222', fontFamily:FONT, margin:4}, splitLine:{show:true, lineStyle:{color:'#d9d9d9', width:1.3}}});
  yAxes.push({gridIndex:gb, type:'category', data:cfg.rows, inverse:true, axisLine:{show:true, onZero:false, lineStyle:{color:'#111', width:1.6}},
    axisTick:{show:false}, axisLabel:{show:false}, splitLine:{show:false}});
  series.push({type:'bar', xAxisIndex:xAxes.length-1, yAxisIndex:yAxes.length-1, silent:true, barWidth:cfg.barFrac, z:2,
    data: cfg.nuclei.map((v,r) => ({value:v, itemStyle:{color:cfg.colors[r]}}))});
  // texts
  graphics.push(txt(106, cfg.titleY, cfg.title));
  graphics.push(txt(944, cfg.barTitleY, '# of nuclei (x 10\u00B3)', {align:'center', textAlign:'center'}));
  graphics.push(txt(675, cfg.legY, 'Pct'));
  const cx = [713, 769.5, 826], tx = [730, 787, 844];
  cfg.legend.forEach((v,i) => {
    graphics.push({type:'circle', shape:{cx:cx[i], cy:cfg.legY, r:cfg.size(v)/2}, style:{fill:'#000'}});
    graphics.push(txt(tx[i], cfg.legY+1, String(v)));
  });
  graphics.push(txt(10, cfg.letterY, cfg.letter, {font:'bold 21px '+FONT, fill:'#111'}));
}

panel({rows:majorRegions, colors:majorColors, pct:majorPct, nuclei:majorNuclei, ticks:majorTicks, legend:majorLegend, size:sizeB,
  top:209, height:98, barW:118.5, barFrac:'84%', title:'Major region (normalized by row)', titleY:198, barTitleY:184, legY:195.5, letter:'b', letterY:180});
panel({rows:subRegions, colors:subColors, pct:subPct, nuclei:subNuclei, ticks:subTicks, legend:subLegend, size:sizeCD,
  top:362, height:349, barW:118, barFrac:'82%', title:'Sub region (normalized by row)', titleY:352.5, barTitleY:338, legY:351, letter:'c', letterY:336});
panel({rows:dissRegions, colors:dissColors, pct:dissPct, nuclei:dissNuclei, ticks:dissTicks, legend:dissLegend, size:sizeCD,
  top:763, height:780, barW:120.5, barFrac:'86%', title:'Dissection region (normalized by row)', titleY:753, barTitleY:739, legY:751.3, letter:'d', letterY:733});
graphics.push(txt(10, 15, 'a', {font:'bold 21px '+FONT, fill:'#111'}));

const chart = echarts.init(document.getElementById('c'), null, {renderer:'canvas', width:1011, height:1545});
chart.setOption({
  animation:false, backgroundColor:'#fff',
  textStyle:{fontFamily:FONT},
  grid:grids, xAxis:xAxes, yAxis:yAxes, series, graphic:{elements:graphics}
});
</script></body></html>
